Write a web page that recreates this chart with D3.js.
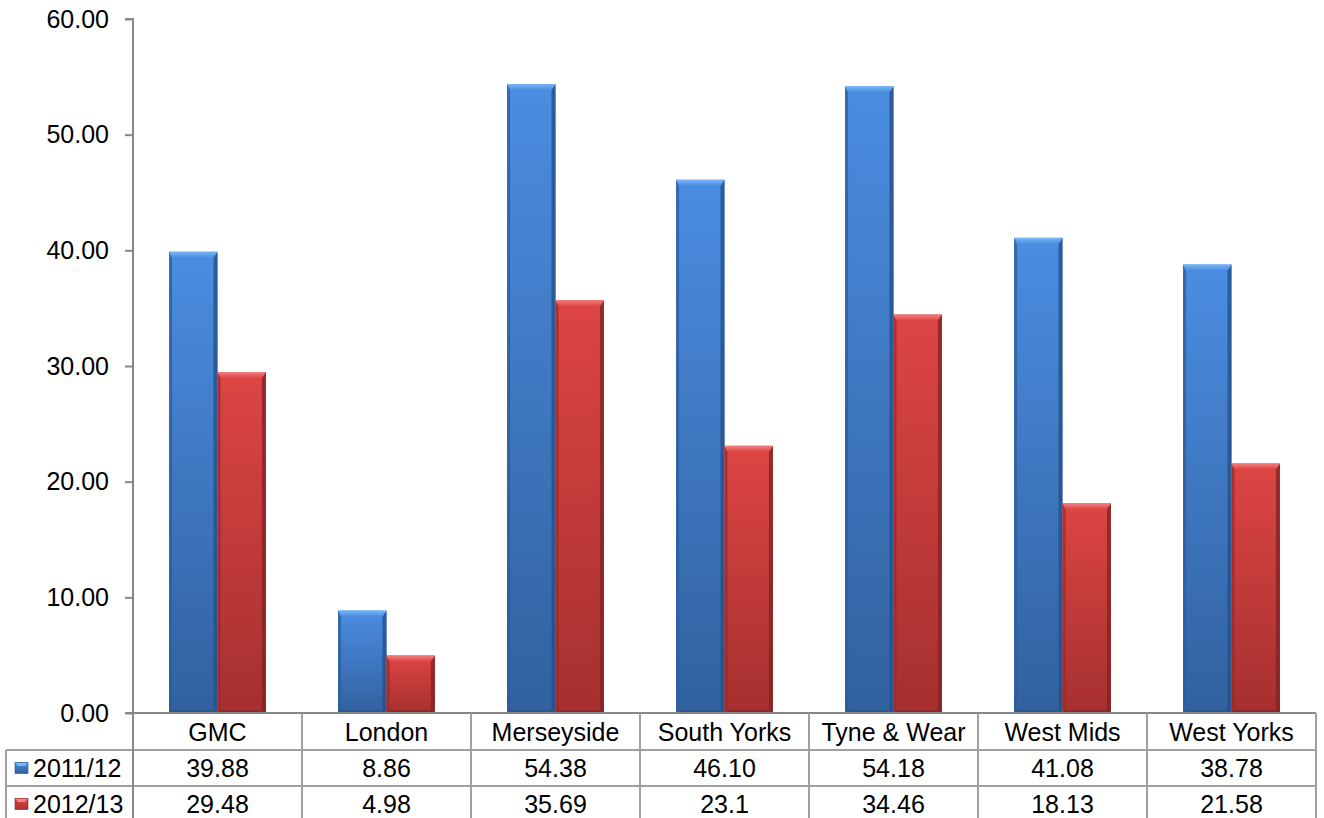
<!DOCTYPE html>
<html><head><meta charset="utf-8">
<script src="https://cdn.jsdelivr.net/npm/d3@7"></script>
<style>
html,body{margin:0;padding:0;background:#fff;}
svg{display:block;font-family:"Liberation Sans",Arial,sans-serif;}
</style></head>
<body>
<svg id="chart" width="1324" height="818"></svg>
<script>
const categories = ["GMC","London","Merseyside","South Yorks","Tyne & Wear","West Mids","West Yorks"];
const seriesNames = ["2011/12","2012/13"];
const values2011 = [39.88, 8.86, 54.38, 46.10, 54.18, 41.08, 38.78];
const values2012 = [29.48, 4.98, 35.69, 23.1, 34.46, 18.13, 21.58];
const labels2011 = ["39.88","8.86","54.38","46.10","54.18","41.08","38.78"];
const labels2012 = ["29.48","4.98","35.69","23.1","34.46","18.13","21.58"];
const yTicks = [0,10,20,30,40,50,60];

(function(){
const svg = d3.select("#chart");
const mLeft = 133, mRight = 1316, mTop = 19, mBottom = 713;
const fs = 25;

const x0 = d3.scaleBand().domain(categories).range([mLeft, mRight]).paddingInner(0).paddingOuter(0);
const x1 = d3.scaleBand().domain(seriesNames).range([0, x0.bandwidth()]).paddingInner(0).paddingOuter(0.745);
const y = d3.scaleLinear().domain([0,60]).range([mBottom, mTop]);

const palettes = {
  "2011/12": {top:"#4b8de1", bot:"#31619f", hi:"#78b6f7", dark:"#24508a", side:"#2c5c9c"},
  "2012/13": {top:"#dd4544", bot:"#a5302f", hi:"#f48080", dark:"#842323", side:"#9a2a2a"}
};
const defs = svg.append("defs");
seriesNames.forEach((s,i)=>{
  const p = palettes[s];
  const g = defs.append("linearGradient").attr("id","g"+i).attr("x1",0).attr("y1",0).attr("x2",0).attr("y2",1);
  g.append("stop").attr("offset","0%").attr("stop-color",p.top);
  g.append("stop").attr("offset","100%").attr("stop-color",p.bot);
  const h = defs.append("linearGradient").attr("id","h"+i).attr("x1",0).attr("y1",0).attr("x2",0).attr("y2",1);
  h.append("stop").attr("offset","0%").attr("stop-color",p.hi);
  h.append("stop").attr("offset","100%").attr("stop-color",p.top);
});

// y axis
const yAxis = d3.axisLeft(y).tickValues(yTicks).tickFormat(d3.format(".2f")).tickSize(8).tickPadding(16);
const ya = svg.append("g").attr("transform",`translate(${mLeft},0)`).call(yAxis);
ya.select(".domain").attr("stroke","#888").attr("stroke-width",2).attr("d",`M-8,${mTop}H0V${mBottom}`);
ya.selectAll(".tick line").attr("stroke","#888").attr("stroke-width",2);
ya.selectAll(".tick text").attr("font-size",fs).attr("fill","#000").attr("font-family","Liberation Sans, Arial, sans-serif");

// bars
const data = categories.map((c,i)=>({cat:c, vals:[values2011[i], values2012[i]]}));
const groups = svg.append("g").selectAll("g").data(data).join("g")
  .attr("transform",d=>`translate(${x0(d.cat)},0)`);
groups.each(function(d){
  const g = d3.select(this);
  seriesNames.forEach((s,i)=>{
    const p = palettes[s];
    const bx = x1(s), bw = x1.bandwidth();
    const by = y(d.vals[i]), bh = y(0) - y(d.vals[i]);
    const bb = g.append("g");
    bb.append("rect").attr("x",bx).attr("y",by).attr("width",bw).attr("height",bh).attr("fill",`url(#g${i})`);
    const t = Math.min(6, bh/2), sL = 3, sR = 4, bt = 3;
    bb.append("polygon").attr("points",[[bx,by],[bx+sL,by+t],[bx+sL,by+bh-bt],[bx,by+bh]].join(" "))
      .attr("fill",p.side).attr("opacity",0.75);
    bb.append("polygon").attr("points",[[bx+bw,by],[bx+bw-sR,by+t],[bx+bw-sR,by+bh-bt],[bx+bw,by+bh]].join(" "))
      .attr("fill",p.dark).attr("opacity",0.8);
    bb.append("polygon").attr("points",[[bx,by],[bx+bw,by],[bx+bw-sR,by+t],[bx+sL,by+t]].join(" "))
      .attr("fill",`url(#h${i})`);
    bb.append("polygon").attr("points",[[bx+sL,by+bh-bt],[bx+bw-sR,by+bh-bt],[bx+bw,by+bh],[bx,by+bh]].join(" "))
      .attr("fill",p.dark).attr("opacity",0.6);
  });
});

// data table
const rowY = [713, 750, 786, 822];
const lineC = "#a0a0a0";
const tbl = svg.append("g");
tbl.append("line").attr("x1",mLeft-8).attr("x2",mRight).attr("y1",rowY[0]).attr("y2",rowY[0]).attr("stroke","#888").attr("stroke-width",2);
[rowY[1],rowY[2]].forEach(yy=>{
  tbl.append("line").attr("x1",6).attr("x2",mRight).attr("y1",yy).attr("y2",yy).attr("stroke",lineC).attr("stroke-width",2);
});
tbl.append("line").attr("x1",6).attr("x2",6).attr("y1",rowY[1]).attr("y2",818).attr("stroke",lineC).attr("stroke-width",2);
categories.forEach(c=>{
  const xx = x0(c) + x0.bandwidth();
  tbl.append("line").attr("x1",xx).attr("x2",xx).attr("y1",rowY[0]).attr("y2",818).attr("stroke",lineC).attr("stroke-width",2);
});
tbl.append("line").attr("x1",mLeft).attr("x2",mLeft).attr("y1",rowY[0]).attr("y2",818).attr("stroke","#888").attr("stroke-width",2);

const baseOff = 9;
tbl.selectAll("text.cat").data(categories).join("text").attr("class","cat")
  .attr("x",d=>x0(d)+x0.bandwidth()/2).attr("y",(rowY[0]+rowY[1])/2+baseOff)
  .attr("text-anchor","middle").attr("font-size",fs).text(d=>d);
[labels2011, labels2012].forEach((labs,r)=>{
  tbl.selectAll("text.v"+r).data(labs).join("text").attr("class","v"+r)
    .attr("x",(d,i)=>x0(categories[i])+x0.bandwidth()/2).attr("y",(rowY[r+1]+rowY[r+2])/2+baseOff)
    .attr("text-anchor","middle").attr("font-size",fs).text(d=>d);
});
seriesNames.forEach((s,i)=>{
  const cy = (rowY[i+1]+rowY[i+2])/2;
  const p = palettes[s];
  const k = tbl.append("g");
  k.append("rect").attr("x",15).attr("y",cy-5.5).attr("width",13).attr("height",11).attr("fill",`url(#g${i})`);
  k.append("polygon").attr("points",[[15,cy-5.5],[28,cy-5.5],[25,cy-2],[18,cy-2]].join(" ")).attr("fill",p.hi);
  k.append("rect").attr("x",15).attr("y",cy-5.5).attr("width",13).attr("height",11).attr("fill","none").attr("stroke",p.dark).attr("stroke-width",0.6);
  k.append("text").attr("x",33).attr("y",cy+baseOff).attr("font-size",fs).text(s);
});
})();
</script>
</body></html>
